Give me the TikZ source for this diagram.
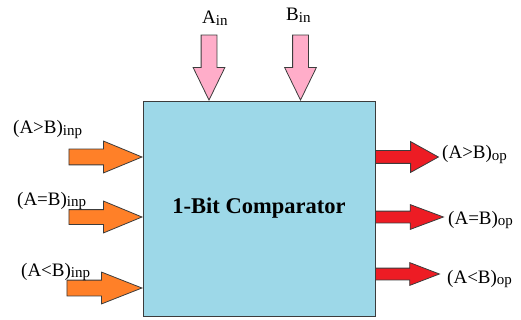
\documentclass[tikz,border=0pt]{standalone}
\usepackage{fontspec}
\setmainfont{Liberation Serif}
\usepackage{xcolor}
\usepackage{tikz}
\usetikzlibrary{shapes.arrows}
\definecolor{boxblue}{RGB}{157,216,232}
\definecolor{inpink}{RGB}{255,173,201}
\definecolor{inorange}{RGB}{255,128,40}
\definecolor{outred}{RGB}{237,28,36}
\definecolor{edge}{RGB}{60,60,60}
\newcommand{\lo}[1]{\raisebox{-0.2ex}{\fontsize{15}{17}\selectfont #1}}

\begin{document}
\begin{tikzpicture}[
        x=1pt, y=-1pt,
        fat/.style n args={4}{single arrow, draw=edge, line width=0.8pt, minimum width=0pt,
          inner sep=#1, single arrow head extend=#2, single arrow tip angle=#3, minimum height=#4},
        lbl/.style={font=\fontsize{19}{21}\selectfont, inner sep=0pt}
      ]
        \useasboundingbox (0,0) rectangle (521,320);
        % comparator block
        \node[draw=edge, line width=0.8pt, fill=boxblue, minimum width=232pt, minimum height=215pt,
          font=\bfseries\fontsize{22.5}{26}\selectfont] (cmp) at (259,208.5) {1-Bit Comparator};
        % data inputs
        \node[fat={7.5pt}{8pt}{52}{65pt}, fill=inpink, shape border rotate=270, anchor=tip] (ain) at (209,101) {};
        \node[fat={7.5pt}{8pt}{52}{65pt}, fill=inpink, shape border rotate=270, anchor=tip] (bin) at (300.5,101) {};
        \node[lbl, anchor=base west] (ainl) at (202,24) {A\lo{in}};
        \node[lbl, anchor=base west] (binl) at (286,21) {B\lo{in}};
        % cascade inputs
        \node[fat={7.5pt}{8pt}{45}{73pt}, fill=inorange, anchor=tip] (gti) at (143,157) {};
        \node[fat={7pt}{8.5pt}{45}{73pt}, fill=inorange, anchor=tip] (eqi) at (143,217) {};
        \node[fat={7.5pt}{8pt}{43}{75pt}, fill=inorange, anchor=tip] (lti) at (143,288) {};
        \node[lbl, anchor=base west] (gtil) at (13,134) {(A>B)\lo{inp}};
        \node[lbl, anchor=base west] (eqil) at (17,205) {(A=B)\lo{inp}};
        \node[lbl, anchor=base west] (ltil) at (21,276) {(A<B)\lo{inp}};
        % outputs
        \node[fat={6pt}{9pt}{58}{63pt}, fill=outred, anchor=tail] (gto) at (375,157) {};
        \node[fat={5.5pt}{6.5pt}{41}{68pt}, fill=outred, anchor=tail] (eqo) at (375,217) {};
        \node[fat={5.5pt}{5.5pt}{42}{64pt}, fill=outred, anchor=tail] (lto) at (375,274) {};
        \node[lbl, anchor=base west] (gtol) at (442,159) {(A>B)\lo{op}};
        \node[lbl, anchor=base west] (eqol) at (448,224) {(A=B)\lo{op}};
        \node[lbl, anchor=base west] (ltol) at (447,283) {(A<B)\lo{op}};
      \end{tikzpicture}
\end{document}
